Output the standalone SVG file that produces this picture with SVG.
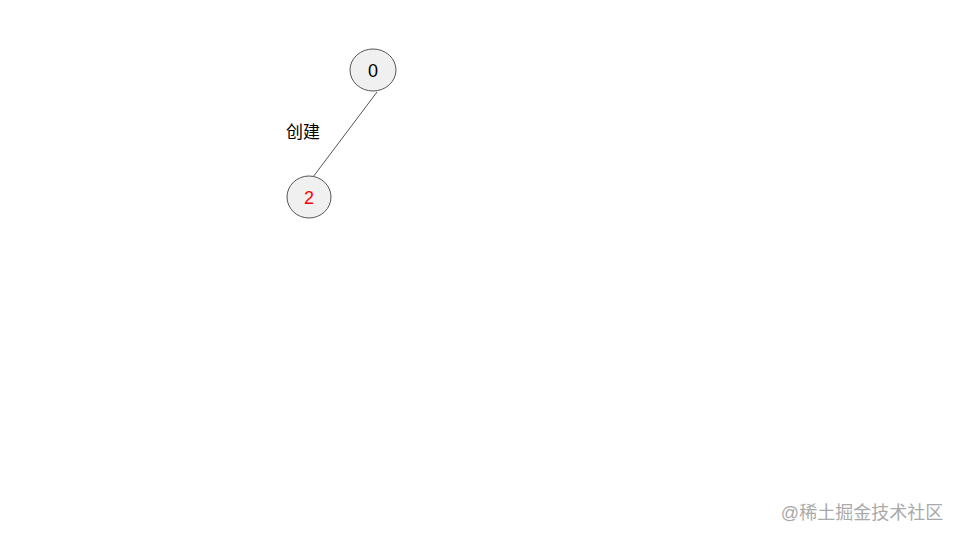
<svg xmlns="http://www.w3.org/2000/svg" width="960" height="540" viewBox="0 0 960 540">
<style>
.node{fill:#f0f0f0;stroke:#555;stroke-width:1}
.lbl{font-family:"Liberation Sans","Noto Sans CJK SC",sans-serif;font-size:17px;text-anchor:middle}
.num{font-size:18px}
.edge{stroke:#555;stroke-width:1;fill:none}
</style>
<rect width="960" height="540" fill="#fff"/>
<g id="connectors">
<line class="edge" x1="377" y1="92" x2="313" y2="177"/>
<text class="lbl" x="303" y="138" fill="#000">创建</text>
</g>
<g id="node0">
<ellipse class="node" cx="373" cy="70" rx="23" ry="21"/>
<text class="lbl num" x="373" y="77" fill="#000">0</text>
</g>
<g id="node2">
<ellipse class="node" cx="309" cy="197" rx="22" ry="21"/>
<text class="lbl num" x="309" y="204" fill="#ff0000">2</text>
</g>
<text x="862" y="519" font-family="Liberation Sans,'Noto Sans CJK SC',sans-serif" font-size="18" fill="#aaa" text-anchor="middle">@稀土掘金技术社区</text>
</svg>
